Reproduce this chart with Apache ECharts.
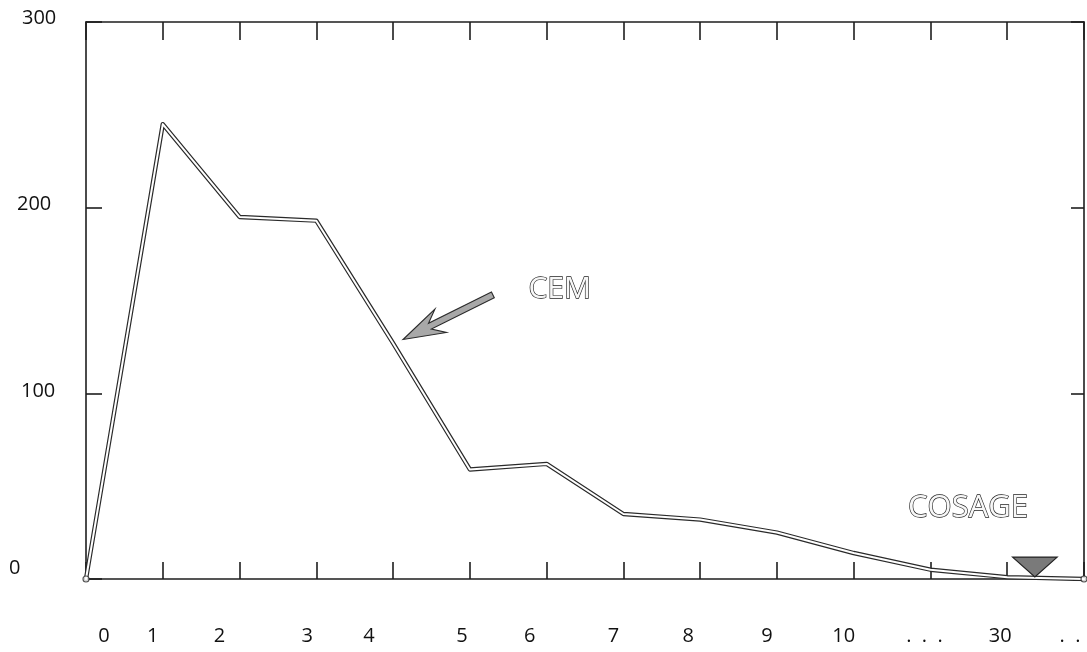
<!DOCTYPE html>
<html>
<head>
<meta charset="utf-8">
<script src="https://cdn.jsdelivr.net/npm/echarts@6/dist/echarts.min.js"></script>
<style>
html,body{margin:0;padding:0;background:#fff;}
#c{width:1087px;height:652px;}
</style>
</head>
<body>
<div id="c"></div>
<script>
// ---- data ----
const categories = ['0','1','2','3','4','5','6','7','8','9','10','.  .  .','30','.  .'];
const cemValues  = [0,245,195,193,127,59,62,35,32,25,14,5,1,0];
const yTicks     = [0,100,200,300];

// ---- styling nudges (px) for the hand-set labels of the scan ----
const xLabelShift = [18,-10,-20,-9,-24,-8,-17,-10,-12,-10,-10,-6,-7,-14];
const yLabelShiftX = {0:0, 100:12, 200:8, 300:13};
const yLabelShiftY = {0:-11, 100:-2, 200:-3, 300:-4};

const FONT = '"Open Sans", "DejaVu Sans", sans-serif';
const INK = '#111';

const seriesData = cemValues.map((v, i) => [i, v]);
const endIdx = [0, cemValues.length - 1];

const xRich = {};
xLabelShift.forEach((s, i) => {
  xRich['x' + i] = {
    fontFamily: FONT, fontSize: 20, color: INK,
    padding: s >= 0 ? [0, 0, 0, 2 * s] : [0, -2 * s, 0, 0]
  };
});
const yRich = {};
yTicks.forEach(t => {
  const v = yLabelShiftY[t];
  yRich['y' + t] = {
    fontFamily: FONT, fontSize: 20, color: INK,
    padding: [v > 0 ? 2 * v : 0, 0, v < 0 ? -2 * v : 0, yLabelShiftX[t]]
  };
});

const chart = echarts.init(document.getElementById('c'), null, {renderer: 'canvas'});

const axisLineStyle = {color: '#1e1e1e', width: 1.6};
const tickStyle = {color: '#1e1e1e', width: 1.6};

const option = {
  animation: false,
  backgroundColor: '#fff',
  grid: {left: 86, right: 3, top: 22, bottom: 73, containLabel: false},
  xAxis: [
    {
      type: 'value', position: 'bottom', min: 0, max: 13, interval: 1,
      axisLine: {show: true, onZero: false, lineStyle: axisLineStyle},
      axisTick: {show: true, inside: true, length: 17, lineStyle: tickStyle},
      splitLine: {show: false},
      axisLabel: {
        show: true, margin: 47, showMinLabel: true, showMaxLabel: true,
        formatter: (val) => {
          const i = Math.round(val);
          return '{x' + i + '|' + categories[i] + '}';
        },
        rich: xRich
      }
    },
    {
      type: 'value', position: 'top', min: 0, max: 13, interval: 1,
      axisLine: {show: true, onZero: false, lineStyle: axisLineStyle},
      axisTick: {show: true, inside: true, length: 18, lineStyle: tickStyle},
      splitLine: {show: false},
      axisLabel: {show: false}
    }
  ],
  yAxis: [
    {
      type: 'value', position: 'left', min: 0, max: 300, interval: 100,
      axisLine: {show: true, onZero: false, lineStyle: axisLineStyle},
      axisTick: {show: true, inside: true, length: 16, lineStyle: tickStyle},
      splitLine: {show: false},
      axisLabel: {
        show: true, align: 'left', margin: 77, showMinLabel: true, showMaxLabel: true,
        formatter: (val) => '{y' + val + '|' + val + '}',
        rich: yRich
      }
    },
    {
      type: 'value', position: 'right', min: 0, max: 300, interval: 100,
      axisLine: {show: true, onZero: false, lineStyle: axisLineStyle},
      axisTick: {show: true, inside: true, length: 13, lineStyle: tickStyle},
      splitLine: {show: false},
      axisLabel: {show: false}
    }
  ],
  series: [
    {
      name: 'CEM-outline', type: 'line', data: seriesData,
      showSymbol: false, symbol: 'none', silent: true, z: 3,
      lineStyle: {color: '#2a2a2a', width: 4.4, join: 'round', cap: 'round'}
    },
    {
      name: 'CEM', type: 'line', data: seriesData,
      showSymbol: false, symbol: 'none', silent: true, z: 4,
      lineStyle: {color: '#ffffff', width: 2, join: 'round', cap: 'round'}
    },
    {
      name: 'ends', type: 'scatter', silent: true, z: 5,
      data: endIdx.map(i => seriesData[i]),
      symbol: 'circle', symbolSize: 6,
      itemStyle: {color: '#fff', borderColor: '#2a2a2a', borderWidth: 1.2}
    }
  ]
};
chart.setOption(option);

// ---- annotations anchored in data space ----
const cemTextAt     = [6.17, 156];
const cosageTextAt  = [11.49, 38];
const arrowTipAt    = [4.13, 129];
const arrowTailAt   = [5.30, 153];
const markerLeftAt  = [12.07, 11.8];
const markerRightAt = [12.65, 11.8];
const markerApexAt  = [12.36, 1.1];

function px(p) { return chart.convertToPixel({xAxisIndex: 0, yAxisIndex: 0}, p); }

const tip = px(arrowTipAt), tail = px(arrowTailAt);
const dx = tip[0] - tail[0], dy = tip[1] - tail[1];
const L = Math.hypot(dx, dy);
const ux = dx / L, uy = dy / L;
const nx = -uy, ny = ux;
const headLen = 42, headHalf = 13, notch = 30, shaftHalf = 3.2;
function pt(along, side) {
  return [tip[0] - ux * along + nx * side, tip[1] - uy * along + ny * side];
}
const arrowPoly = [
  pt(0, 0),
  pt(headLen, headHalf),
  pt(notch, shaftHalf),
  pt(L, shaftHalf),
  pt(L, -shaftHalf),
  pt(notch, -shaftHalf),
  pt(headLen, -headHalf)
];

const mL = px(markerLeftAt), mR = px(markerRightAt), mA = px(markerApexAt);
const cemP = px(cemTextAt), cosP = px(cosageTextAt);

chart.setOption({
  graphic: [
    {
      type: 'polygon', z: 10,
      shape: {points: arrowPoly},
      style: {fill: '#a8a8a8', stroke: '#2a2a2a', lineWidth: 1.1}
    },
    {
      type: 'polygon', z: 10,
      shape: {points: [mL, mR, mA]},
      style: {fill: '#7a7a7a', stroke: '#222', lineWidth: 1.2}
    },
    {
      type: 'text', z: 10, x: cemP[0], y: cemP[1],
      style: {
        text: 'CEM', fontFamily: FONT, fontSize: 30, fontWeight: 'normal',
        fill: '#f7f7f7', stroke: '#222', lineWidth: 1.3,
        align: 'center', verticalAlign: 'middle'
      }
    },
    {
      type: 'text', z: 10, x: cosP[0], y: cosP[1],
      style: {
        text: 'COSAGE', fontFamily: FONT, fontSize: 31, fontWeight: 'normal',
        fill: '#f7f7f7', stroke: '#222', lineWidth: 1.3,
        align: 'center', verticalAlign: 'middle'
      }
    }
  ]
});
</script>
</body>
</html>
